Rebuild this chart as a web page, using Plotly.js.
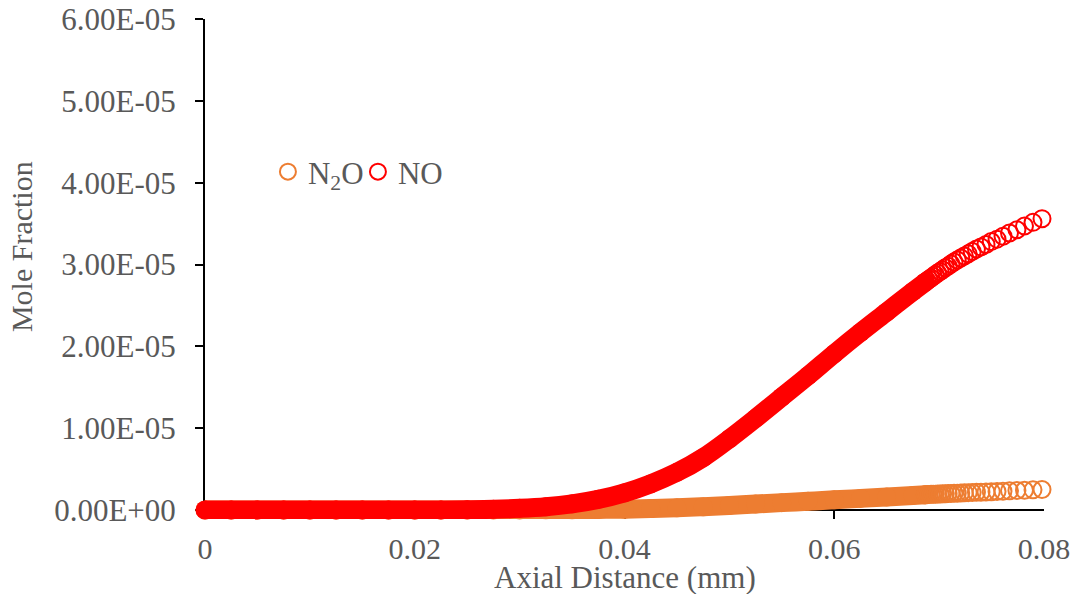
<!DOCTYPE html>
<html>
<head>
<meta charset="utf-8">
<script src="https://cdn.plot.ly/plotly-3.0.1.min.js"></script>
<style>html,body{margin:0;padding:0;background:#fff;}#chart{width:1080px;height:594px;}</style>
</head>
<body>
<div id="chart"></div>
<script>
// Axial positions (mm) of the densely packed grid points (drawn as a continuous band)
const xDense = [0, 0.0025, 0.005, 0.0075, 0.01, 0.0125, 0.015, 0.0175, 0.02, 0.0225, 0.025, 0.0275, 0.03, 0.0325, 0.035, 0.0375, 0.04, 0.0425, 0.045, 0.0475, 0.05, 0.0525, 0.055, 0.0575, 0.06, 0.0625, 0.065, 0.0675, 0.06869];
const n2oDense = [0, 0, 0, 0, 0, 0, 0, 0, 0, 0, 0, 0, 0.01e-6, 0.02e-6, 0.04e-6, 0.07e-6, 0.10e-6, 0.17e-6, 0.26e-6, 0.40e-6, 0.56e-6, 0.73e-6, 0.90e-6, 1.07e-6, 1.24e-6, 1.42e-6, 1.60e-6, 1.78e-6, 1.87e-6];
const noDense = [0, 0, 0, 0, 0, 0, 0, 0, 0, 0.001e-5, 0.003e-5, 0.008e-5, 0.02e-5, 0.04e-5, 0.075e-5, 0.13e-5, 0.21e-5, 0.32e-5, 0.46e-5, 0.64e-5, 0.87e-5, 1.12e-5, 1.38e-5, 1.64e-5, 1.91e-5, 2.17e-5, 2.42e-5, 2.67e-5, 2.785e-5];

// Axial positions (mm) of the sparser points at the end of the domain
const xTail = [0.06869, 0.06886, 0.06904, 0.06923, 0.06943, 0.06964, 0.06986, 0.07009, 0.07033, 0.07059, 0.07086, 0.07113, 0.07142, 0.07173, 0.07206, 0.07240, 0.07277, 0.07315, 0.07356, 0.07399, 0.07447, 0.07497, 0.07552, 0.07609, 0.07671, 0.07742, 0.07814, 0.07895, 0.07981];
const n2oTail = [1.87e-6, 1.88e-6, 1.89e-6, 1.91e-6, 1.92e-6, 1.93e-6, 1.95e-6, 1.96e-6, 1.98e-6, 1.99e-6, 2.01e-6, 2.02e-6, 2.04e-6, 2.06e-6, 2.08e-6, 2.10e-6, 2.12e-6, 2.14e-6, 2.16e-6, 2.18e-6, 2.21e-6, 2.24e-6, 2.27e-6, 2.30e-6, 2.34e-6, 2.38e-6, 2.42e-6, 2.46e-6, 2.51e-6];
const noTail = [2.785e-5, 2.80e-5, 2.82e-5, 2.835e-5, 2.855e-5, 2.875e-5, 2.895e-5, 2.915e-5, 2.935e-5, 2.96e-5, 2.98e-5, 3.005e-5, 3.03e-5, 3.055e-5, 3.08e-5, 3.105e-5, 3.13e-5, 3.16e-5, 3.19e-5, 3.215e-5, 3.245e-5, 3.28e-5, 3.31e-5, 3.345e-5, 3.385e-5, 3.425e-5, 3.47e-5, 3.515e-5, 3.56e-5];

const seriesNames = ["N<sub>2</sub>O", "NO"];
const xTickVals = [0, 0.02, 0.04, 0.06, 0.08];
const xTickText = ["0", "0.02", "0.04", "0.06", "0.08"];
const yTickVals = [0, 1e-5, 2e-5, 3e-5, 4e-5, 5e-5, 6e-5];
const yTickText = ["0.00E+00", "1.00E-05", "2.00E-05", "3.00E-05", "4.00E-05", "5.00E-05", "6.00E-05"];

const ORANGE = "#ED7D31", RED = "#FF0000", GREY = "#595959";
const FONT = "Times New Roman, Liberation Serif, serif";
const RING = 17, RINGW = 2, BAND = RING + RINGW;

function band(y, color) {
  return {x: xDense, y: y, type: "scatter", mode: "lines+markers", showlegend: false, cliponaxis: false,
    line: {color: color, width: BAND, shape: "spline", smoothing: 1},
    marker: {symbol: "circle", size: BAND, color: color, line: {width: 0}}, hoverinfo: "skip"};
}
function tail(y, color, name) {
  return {x: xTail, y: y, type: "scatter", mode: "markers", name: name, cliponaxis: false,
    marker: {symbol: "circle-open", size: RING, color: color, line: {width: RINGW, color: color}}};
}

const data = [
  band(n2oDense, ORANGE), tail(n2oTail, ORANGE, seriesNames[0]),
  band(noDense, RED), tail(noTail, RED, seriesNames[1])
];

const layout = {
  width: 1080, height: 594,
  margin: {l: 205, r: 36, t: 19, b: 75},
  paper_bgcolor: "#fff", plot_bgcolor: "#fff",
  font: {family: FONT, color: GREY, size: 30},
  showlegend: true,
  hovermode: false,
  legend: {orientation: "h", x: 0.075, y: 0.694, xanchor: "left", yanchor: "middle", entrywidth: 45,
    font: {family: FONT, size: 31, color: GREY}, bgcolor: "rgba(0,0,0,0)", itemsizing: "trace", tracegroupgap: 0},
  xaxis: {range: [0, 0.08], tickvals: xTickVals, ticktext: xTickText, showgrid: false, zeroline: false,
    showline: false, ticks: "inside", ticklen: 9, tickwidth: 2, tickcolor: "#000",
    ticklabelstandoff: 9, layer: "below traces", tickfont: {family: FONT, size: 30, color: GREY}, fixedrange: true},
  yaxis: {range: [-1.1e-6, 6e-5], tickvals: yTickVals, ticktext: yTickText, showgrid: false,
    zeroline: true, zerolinecolor: "#000", zerolinewidth: 2,
    showline: true, linecolor: "#000", linewidth: 2, ticks: "outside", ticklen: 8, tickwidth: 2, tickcolor: "#000",
    ticklabelstandoff: 13, layer: "below traces", tickfont: {family: FONT, size: 31, color: GREY}, fixedrange: true},
  annotations: [
    {text: "Axial Distance (mm)", xref: "paper", yref: "paper", x: 0.5, y: -0.118, xanchor: "center", yanchor: "middle",
      showarrow: false, font: {family: FONT, size: 31, color: GREY}},
    {text: "Mole Fraction", xref: "paper", yref: "paper", x: -0.218, y: 0.544, xanchor: "center", yanchor: "middle",
      textangle: -90, showarrow: false, font: {family: FONT, size: 30, color: GREY}}
  ]
};

Plotly.newPlot("chart", data, layout, {displayModeBar: false, staticPlot: true});
</script>
</body>
</html>
